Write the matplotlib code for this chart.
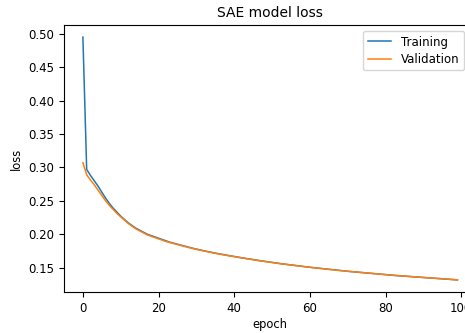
import matplotlib
matplotlib.use("Agg")
import matplotlib.pyplot as plt

# loss per epoch
training = [
    0.495, 0.297, 0.288, 0.280, 0.272, 0.263, 0.254, 0.246, 0.239, 0.233,
    0.227, 0.222, 0.217, 0.213, 0.209, 0.206, 0.203, 0.200, 0.198, 0.196,
    0.194, 0.192, 0.190, 0.188, 0.1865, 0.185, 0.1835, 0.182, 0.1805, 0.179,
    0.1777, 0.1764, 0.1752, 0.1740, 0.1728, 0.1717, 0.1706, 0.1696, 0.1686, 0.1676,
    0.1667, 0.1657, 0.1647, 0.1638, 0.1629, 0.1620, 0.1611, 0.1602, 0.1594, 0.1586,
    0.1578, 0.1570, 0.1562, 0.1554, 0.1547, 0.1540, 0.1533, 0.1526, 0.1519, 0.1512,
    0.1506, 0.1499, 0.1493, 0.1487, 0.1481, 0.1475, 0.1469, 0.1463, 0.1457, 0.1451,
    0.1445, 0.1440, 0.1435, 0.1430, 0.1425, 0.1420, 0.1415, 0.1410, 0.1405, 0.1400,
    0.1395, 0.1390, 0.1385, 0.1380, 0.1376, 0.1372, 0.1368, 0.1364, 0.1360, 0.1356,
    0.1352, 0.1348, 0.1344, 0.1340, 0.1336, 0.1332, 0.1328, 0.1324, 0.1320, 0.1316,
]
validation = [
    0.307, 0.289, 0.281, 0.274, 0.266, 0.258, 0.250, 0.243, 0.237, 0.231,
    0.226, 0.221, 0.216, 0.212, 0.208, 0.205, 0.202, 0.199, 0.197, 0.195,
    0.193, 0.191, 0.189, 0.1875, 0.186, 0.1845, 0.183, 0.1815, 0.180, 0.1787,
    0.1774, 0.1761, 0.1749, 0.1737, 0.1725, 0.1714, 0.1703, 0.1693, 0.1683, 0.1673,
    0.1664, 0.1654, 0.1645, 0.1636, 0.1627, 0.1618, 0.1609, 0.1600, 0.1592, 0.1584,
    0.1576, 0.1568, 0.1560, 0.1553, 0.1546, 0.1539, 0.1532, 0.1525, 0.1518, 0.1511,
    0.1505, 0.1498, 0.1492, 0.1486, 0.1480, 0.1474, 0.1468, 0.1462, 0.1456, 0.1451,
    0.1445, 0.1440, 0.1435, 0.1430, 0.1425, 0.1420, 0.1415, 0.1410, 0.1405, 0.1400,
    0.1395, 0.1390, 0.1386, 0.1381, 0.1377, 0.1373, 0.1369, 0.1365, 0.1361, 0.1357,
    0.1353, 0.1349, 0.1345, 0.1341, 0.1337, 0.1333, 0.1329, 0.1325, 0.1321, 0.1318,
]
epochs = list(range(len(training)))

fig = plt.figure(figsize=(4.65, 3.33), dpi=100)
# the axes run past the right edge of the picture, as in the reference
ax = fig.add_axes([0.138, 0.123, 0.886, 0.802])
ax.plot(epochs, training, label='Training', lw=1.1)
ax.plot(epochs, validation, label='Validation', lw=1.1)
ax.set_title('SAE model loss', fontsize=10)
ax.set_xlabel('epoch', fontsize=8.3, labelpad=2)
ax.set_ylabel('loss', fontsize=8.3)
ax.tick_params(labelsize=8.5)
ax.legend(loc='upper right', bbox_to_anchor=(0.985, 1.0),
          fontsize=8.5, labelspacing=0.35)

fig.savefig('out.png', dpi=100)
